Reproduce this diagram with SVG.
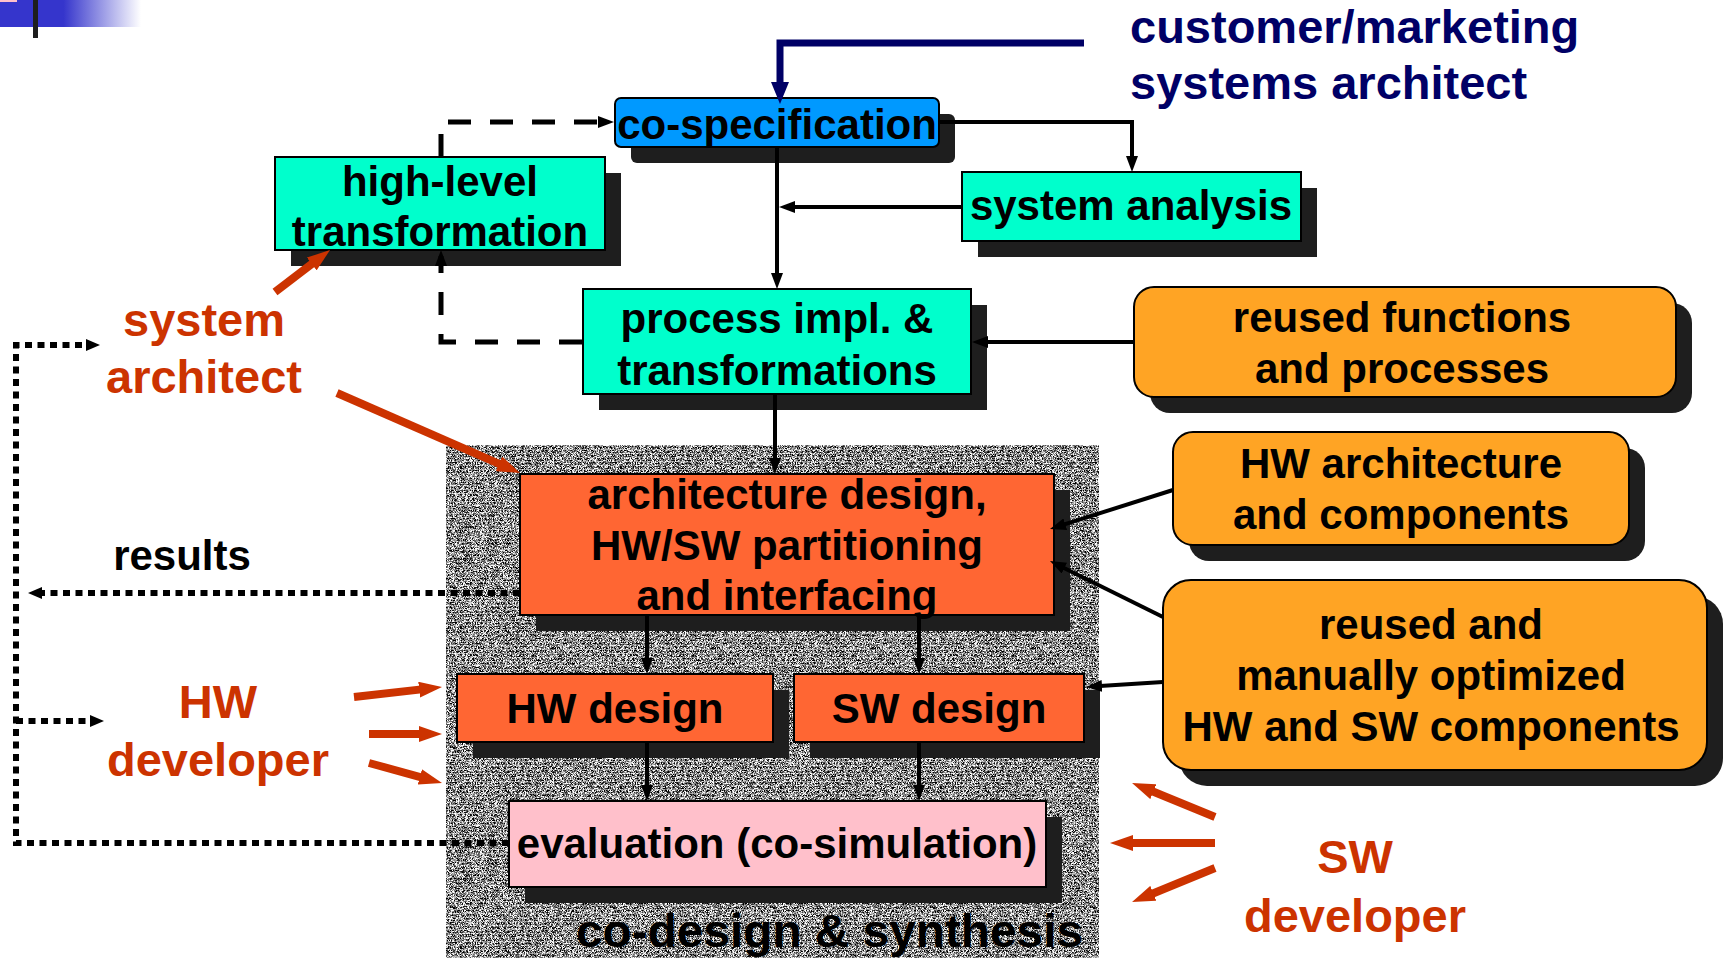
<svg xmlns="http://www.w3.org/2000/svg" width="1725" height="958" viewBox="0 0 1725 958">
<defs>
<style>
.sh{fill:#1e1e1e}
.bx{stroke:#000;stroke-width:2}
.cyan{fill:#00ffcc}
.blue{fill:#0099ff}
.org{fill:#ffa424}
.red{fill:#ff6633}
.pink{fill:#ffc0cb}
.t{font-family:'Liberation Sans',Arial,Helvetica,sans-serif;font-weight:bold;font-size:42px;text-anchor:middle;fill:#000}
.rt{fill:#cc3300;font-size:47px}
.nv{fill:#000066;font-size:47px;text-anchor:start}
.ln{fill:none;stroke:#000;stroke-width:4}
.dash{fill:none;stroke:#000;stroke-width:5;stroke-dasharray:23 19}
.dot{fill:none;stroke:#000;stroke-width:6;stroke-dasharray:7 5.5}
.rl{fill:none;stroke:#cc3300;stroke-width:8}
</style>
<marker id="ah" markerUnits="userSpaceOnUse" markerWidth="16" markerHeight="12" refX="10" refY="6" orient="auto"><path d="M0,0 L16,6 L0,12 z" fill="#000"/></marker>
<marker id="nh" markerUnits="userSpaceOnUse" markerWidth="22" markerHeight="18" refX="10" refY="9" orient="auto"><path d="M0,0 L22,9 L0,18 z" fill="#000066"/></marker>
<marker id="dh" markerUnits="userSpaceOnUse" markerWidth="14" markerHeight="12" refX="5" refY="6" orient="auto"><path d="M0,0 L14,6 L0,12 z" fill="#000"/></marker>
<marker id="rh" markerUnits="userSpaceOnUse" markerWidth="23" markerHeight="16" refX="9" refY="8" orient="auto"><path d="M0,0 L23,8 L0,16 z" fill="#cc3300"/></marker>
<linearGradient id="hdr" x1="0" y1="0" x2="141" y2="0" gradientUnits="userSpaceOnUse">
<stop offset="0" stop-color="#3535cc"/><stop offset="0.45" stop-color="#3535cc"/><stop offset="1" stop-color="#ffffff"/>
</linearGradient>
<filter id="grain" x="446" y="445" width="653" height="513" filterUnits="userSpaceOnUse" color-interpolation-filters="sRGB">
<feTurbulence type="fractalNoise" baseFrequency="1.6" numOctaves="1" seed="5" result="n"/>
<feColorMatrix in="n" type="matrix" values="3.6 0 0 0 -1.3  3.6 0 0 0 -1.3  3.6 0 0 0 -1.3  0 0 0 0 1"/>
</filter>
<pattern id="stripes" x="0" y="445" width="8" height="4" patternUnits="userSpaceOnUse"><rect x="0" y="0" width="8" height="1" fill="#ffffff" fill-opacity="0.3"/></pattern>
</defs>

<rect x="0" y="0" width="1725" height="958" fill="#ffffff"/>

<g id="header">
<rect x="0" y="0" width="141" height="27" fill="url(#hdr)"/>
<rect x="0" y="0" width="17" height="2" fill="#ffc0cb"/>
<rect x="33" y="0" width="5" height="38" fill="#1e1e1e"/>
</g>

<g id="codesign-region">
<rect x="446" y="445" width="653" height="513" filter="url(#grain)"/>
<rect x="446" y="445" width="653" height="513" fill="url(#stripes)"/>
<text class="t" x="576" y="947" style="text-anchor:start;font-size:47px" textLength="507" lengthAdjust="spacingAndGlyphs">co-design &amp; synthesis</text>
</g>

<g id="co-specification">
<rect class="sh" x="631" y="114" width="324" height="49" rx="6"/>
<rect class="bx blue" x="615" y="98" width="324" height="49" rx="6"/>
<text class="t" x="777" y="139">co-specification</text>
</g>

<g id="high-level-transformation">
<rect class="sh" x="291" y="173" width="330" height="93"/>
<rect class="bx cyan" x="275" y="157" width="330" height="93"/>
<text class="t" x="440" y="196">high-level</text>
<text class="t" x="440" y="246">transformation</text>
</g>

<g id="system-analysis">
<rect class="sh" x="978" y="188" width="339" height="69"/>
<rect class="bx cyan" x="962" y="172" width="339" height="69"/>
<text class="t" x="1131" y="220">system analysis</text>
</g>

<g id="process-impl">
<rect class="sh" x="599" y="305" width="388" height="105"/>
<rect class="bx cyan" x="583" y="289" width="388" height="105"/>
<text class="t" x="777" y="333">process impl. &amp;</text>
<text class="t" x="777" y="385">transformations</text>
</g>

<g id="reused-functions">
<rect class="sh" x="1150" y="303" width="542" height="110" rx="20"/>
<rect class="bx org" x="1134" y="287" width="542" height="110" rx="20"/>
<text class="t" x="1402" y="332">reused functions</text>
<text class="t" x="1402" y="383">and processes</text>
</g>

<g id="hw-architecture">
<rect class="sh" x="1189" y="448" width="456" height="113" rx="20"/>
<rect class="bx org" x="1173" y="432" width="456" height="113" rx="20"/>
<text class="t" x="1401" y="478">HW architecture</text>
<text class="t" x="1401" y="529">and components</text>
</g>

<g id="reused-components">
<rect class="sh" x="1179" y="596" width="544" height="190" rx="28"/>
<rect class="bx org" x="1163" y="580" width="544" height="190" rx="28"/>
<text class="t" x="1431" y="639">reused and</text>
<text class="t" x="1431" y="690">manually optimized</text>
<text class="t" x="1431" y="741">HW and SW components</text>
</g>

<g id="architecture-design">
<rect class="sh" x="536" y="490" width="534" height="141"/>
<rect class="bx red" x="520" y="474" width="534" height="141"/>
<text class="t" x="787" y="509">architecture design,</text>
<text class="t" x="787" y="560">HW/SW partitioning</text>
<text class="t" x="787" y="610">and interfacing</text>
</g>

<g id="hw-design">
<rect class="sh" x="473" y="690" width="316" height="68"/>
<rect class="bx red" x="457" y="674" width="316" height="68"/>
<text class="t" x="615" y="723">HW design</text>
</g>

<g id="sw-design">
<rect class="sh" x="810" y="690" width="290" height="68"/>
<rect class="bx red" x="794" y="674" width="290" height="68"/>
<text class="t" x="939" y="723">SW design</text>
</g>

<g id="evaluation">
<rect class="sh" x="525" y="817" width="537" height="86"/>
<rect class="bx pink" x="509" y="801" width="537" height="86"/>
<text class="t" x="777" y="858">evaluation (co-simulation)</text>
</g>

<g id="labels">
<text class="t nv" x="1130" y="43">customer/marketing</text>
<text class="t nv" x="1130" y="99">systems architect</text>
<text class="t rt" x="204" y="336">system</text>
<text class="t rt" x="204" y="393">architect</text>
<text class="t" x="182" y="570">results</text>
<text class="t rt" x="218" y="718">HW</text>
<text class="t rt" x="218" y="776">developer</text>
<text class="t rt" x="1355" y="873">SW</text>
<text class="t rt" x="1355" y="932">developer</text>
</g>

<g id="connectors">
<path d="M1084,43 H780 V92" fill="none" stroke="#000066" stroke-width="7" marker-end="url(#nh)"/>
<path class="ln" d="M939,122 H1132 V166" marker-end="url(#ah)"/>
<path class="ln" d="M777,147 V283" marker-end="url(#ah)"/>
<path class="ln" d="M962,207 H785" marker-end="url(#ah)"/>
<path class="ln" d="M1134,342 H978" marker-end="url(#ah)"/>
<path class="ln" d="M775,394 V468" marker-end="url(#ah)"/>
<path class="ln" d="M1173,490 L1055.7,527.2" marker-end="url(#ah)"/>
<path class="ln" d="M1163,617 L1055.4,563.7" marker-end="url(#ah)"/>
<path class="ln" d="M1163,682 L1092,686.6" marker-end="url(#ah)"/>
<path class="ln" d="M647,615 V668" marker-end="url(#ah)"/>
<path class="ln" d="M919,615 V668" marker-end="url(#ah)"/>
<path class="ln" d="M647,742 V795" marker-end="url(#ah)"/>
<path class="ln" d="M919,742 V795" marker-end="url(#ah)"/>
<path class="dash" d="M441,157 V122 H608" marker-end="url(#ah)"/>
<path class="dash" d="M582,342 H441 V256" marker-end="url(#ah)"/>
<path class="dot" d="M520,593 H37" marker-end="url(#dh)"/>
<path class="dot" d="M509,843 H16 V345 H91" marker-end="url(#dh)"/>
<path class="dot" d="M16,721 H95" marker-end="url(#dh)"/>
<path class="rl" d="M275,292 L318.9,258.5" marker-end="url(#rh)"/>
<path class="rl" d="M337,393 L507.2,467.4" marker-end="url(#rh)"/>
<path class="rl" d="M354,697 L428.1,688.6" marker-end="url(#rh)"/>
<path class="rl" d="M369,734 L428,734" marker-end="url(#rh)"/>
<path class="rl" d="M369,763 L428.5,779.3" marker-end="url(#rh)"/>
<path class="rl" d="M1215,817 L1145,788.3" marker-end="url(#rh)"/>
<path class="rl" d="M1215,843 L1124,843" marker-end="url(#rh)"/>
<path class="rl" d="M1215,868 L1145,896.7" marker-end="url(#rh)"/>
</g>
</svg>
